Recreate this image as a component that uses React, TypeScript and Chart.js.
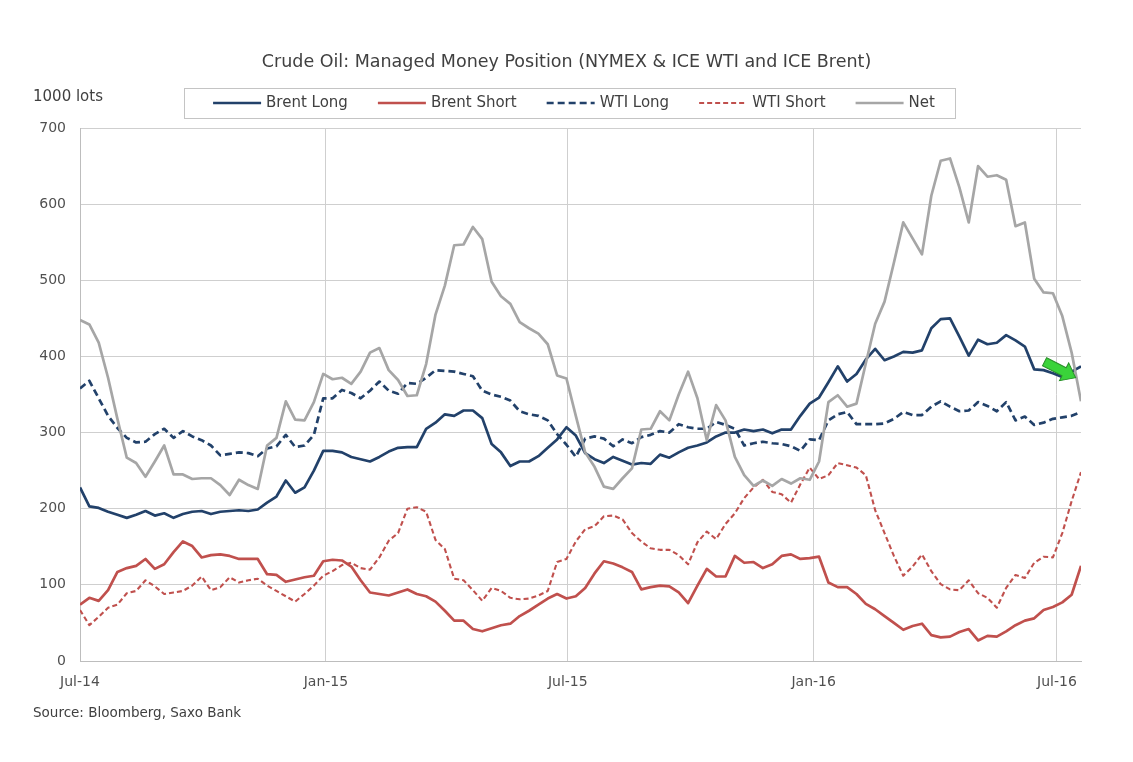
import React, { useEffect, useRef } from 'react';
import { Chart, registerables } from 'chart.js';

Chart.register(...registerables);

// ---- Text ----
const TITLE = 'Crude Oil: Managed Money Position (NYMEX & ICE WTI and ICE Brent)';
const UNIT_LABEL = '1000 lots';
const SOURCE = 'Source: Bloomberg, Saxo Bank';

// ---- Categories: weekly COT report dates (Tuesdays) from 1 Jul 2014 ----
const START_DATE = '2014-07-01';
const WEEK_COUNT = 108;
const DAY_MS = 86400000;
const weekDates: string[] = Array.from({ length: WEEK_COUNT }, (_, i) =>
  new Date(Date.parse(START_DATE) + i * 7 * DAY_MS).toISOString().slice(0, 10)
);

// ---- Axis ticks ----
const tickDates = ['2014-07-01', '2015-01-01', '2015-07-01', '2016-01-01', '2016-07-01'];
const tickLabels = ['Jul-14', 'Jan-15', 'Jul-15', 'Jan-16', 'Jul-16'];
const yTicksMax = 700;
const yTickStep = 100;

// ---- Series (1000 lots) ----
const brentLong = [
  228, 203, 201, 196, 192, 188, 192, 197, 191, 194, 188, 193, 196, 197, 193, 196, 197, 198, 197, 199, 208, 216, 237, 221, 228, 250, 276,
  276, 274, 268, 265, 262, 268, 275, 280, 281, 281, 305, 313, 324, 322, 329, 329, 319, 285, 274, 256, 262, 262, 269, 280, 291, 307, 296,
  273, 265, 260, 268, 263, 258, 260, 259, 271, 267, 274, 280, 283, 287, 295, 300, 300, 304, 302, 304, 299, 304, 304, 322, 338, 346,
  366, 387, 367, 377, 396, 410, 395, 400, 406, 405, 408, 437, 449, 450, 426, 401, 422, 416, 418, 428, 421, 413, 383, 382, 378, 373, 380, 387,
];
const brentShort = [
  74, 83, 79, 93, 117, 122, 125, 134, 121, 127, 143, 157, 151, 136, 139, 140, 138, 134, 134, 134, 114, 113, 104, 107, 110, 112, 131,
  133, 132, 124, 106, 90, 88, 86, 90, 94, 88, 85, 78, 66, 53, 53, 42, 39, 43, 47, 49, 59, 66, 74, 82, 88, 82, 85,
  96, 115, 131, 128, 123, 117, 94, 97, 99, 98, 90, 76, 99, 121, 111, 111, 138, 129, 130, 122, 127, 138, 140, 134, 135, 137,
  103, 97, 97, 88, 75, 68, 59, 50, 41, 46, 49, 34, 31, 32, 38, 42, 27, 33, 32, 39, 47, 53, 56, 67, 71, 77, 87, 125,
];
const wtiLong = [
  358, 368, 345, 322, 306, 293, 287, 288, 298, 305, 293, 302, 295, 290, 283, 270, 272, 274, 273, 269, 279, 282, 297, 281, 283, 297, 345,
  345, 356, 352, 345, 355, 367, 355, 351, 365, 364, 372, 382, 381, 380, 377, 374, 355, 350, 347, 342, 328, 324, 322, 316, 298, 284, 268,
  292, 295, 292, 282, 291, 286, 294, 297, 302, 300, 311, 307, 305, 305, 314, 310, 305, 283, 286, 288, 286, 285, 282, 276, 291, 290,
  316, 324, 327, 311, 311, 311, 312, 318, 327, 323, 323, 334, 341, 334, 328, 329, 340, 335, 328, 340, 316, 321, 310, 313, 318, 320, 322, 327,
];
const wtiShort = [
  67, 47, 58, 70, 74, 89, 92, 106, 98, 88, 90, 92, 99, 111, 93, 97, 110, 103, 106, 108, 99, 92, 85, 78, 88, 99, 112,
  118, 126, 129, 122, 120, 136, 158, 168, 200, 202, 196, 159, 147, 108, 106, 93, 79, 96, 92, 83, 81, 82, 86, 92, 130, 134, 157,
  173, 177, 190, 191, 186, 168, 157, 148, 146, 146, 139, 127, 156, 170, 160, 180, 194, 214, 228, 238, 222, 219, 208, 232, 254, 239,
  244, 260, 257, 254, 244, 198, 168, 138, 112, 124, 140, 118, 101, 94, 93, 106, 89, 83, 70, 96, 113, 109, 129, 137, 136, 168, 210, 248,
];
const net = [
  448, 442, 418, 372, 318, 267, 260, 242, 262, 283, 245, 245, 239, 240, 240, 231, 218, 238, 231, 226, 283, 293, 341, 317, 316, 340, 377,
  370, 372, 364, 380, 405, 411, 382, 369, 348, 349, 390, 455, 493, 546, 547, 570, 554, 498, 479, 469, 445, 437, 430, 416, 375, 371, 322,
  274, 255, 229, 226, 240, 253, 304, 305, 328, 316, 350, 380, 345, 290, 336, 316, 268, 244, 230, 237, 230, 239, 233, 240, 238, 262,
  340, 349, 334, 338, 391, 443, 472, 523, 576, 555, 534, 611, 657, 660, 622, 576, 650, 636, 638, 632, 571, 576, 502, 484, 483, 453, 405, 341,
];

// Annotation arrow tip (date, value) pointing at the latest Net move
const arrowTipDate = '2016-07-15';
const arrowTipValue = 372;

const FONT = '"DejaVu Sans", Verdana, sans-serif';
const NAVY = '#22416a';
const RED = '#c0504d';
const GREY = '#a6a6a6';
const GRID = '#cfcfcf';
const TEXT = '#404040';

const dayOf = (d: string) => (Date.parse(d) - Date.parse(START_DATE)) / DAY_MS;

export default function App() {
  const ref = useRef<HTMLCanvasElement | null>(null);

  useEffect(() => {
    const canvas = ref.current;
    if (!canvas) return;
    const toPts = (vals: number[]) => vals.map((v, i) => ({ x: dayOf(weekDates[i]), y: v }));
    const tickValues = tickDates.map(dayOf);

    const decor = {
      id: 'decor',
      afterDraw(chart: any) {
        const ctx = chart.ctx as CanvasRenderingContext2D;
        const W = chart.width;
        ctx.save();
        // Title
        ctx.fillStyle = TEXT;
        ctx.font = `17.5px ${FONT}`;
        ctx.textAlign = 'center';
        ctx.textBaseline = 'middle';
        ctx.fillText(TITLE, W / 2, 62);
        // unit label
        ctx.textAlign = 'left';
        ctx.font = `15px ${FONT}`;
        ctx.fillText(UNIT_LABEL, 33, 97);
        // source
        ctx.font = `13.5px ${FONT}`;
        ctx.fillText(SOURCE, 33, 713);

        // Legend
        ctx.font = `15px ${FONT}`;
        const ds = chart.data.datasets;
        const lineLen = 48;
        const gapText = 5;
        const itemGap = 30;
        const widths = ds.map((d: any) => lineLen + gapText + ctx.measureText(d.label).width);
        const total = widths.reduce((a: number, b: number) => a + b, 0) + itemGap * (ds.length - 1);
        const padL = 29, padR = 20;
        const boxW = total + padL + padR;
        const boxX = W / 2 + 3 - boxW / 2;
        const boxY = 88, boxH = 30;
        ctx.strokeStyle = '#c4c4c4';
        ctx.lineWidth = 1;
        ctx.strokeRect(Math.round(boxX) + 0.5, boxY + 0.5, Math.round(boxW), boxH);
        let x = boxX + padL;
        const cy = boxY + boxH / 2;
        ds.forEach((d: any, i: number) => {
          ctx.beginPath();
          ctx.strokeStyle = d.borderColor;
          ctx.lineWidth = d.borderWidth;
          ctx.setLineDash(d.borderDash || []);
          ctx.moveTo(x, cy);
          ctx.lineTo(x + lineLen, cy);
          ctx.stroke();
          ctx.setLineDash([]);
          ctx.fillStyle = TEXT;
          ctx.textBaseline = 'middle';
          ctx.fillText(d.label, x + lineLen + gapText, cy);
          x += widths[i] + itemGap;
        });

        // Green arrow annotation
        const xs = chart.scales.x, ys = chart.scales.y;
        const tx = xs.getPixelForValue(dayOf(arrowTipDate));
        const ty = ys.getPixelForValue(arrowTipValue);
        ctx.translate(tx, ty);
        ctx.rotate(Math.atan2(16, 31));
        const L = 35, hl = 13, sw = 4.5, hw = 10;
        ctx.beginPath();
        ctx.moveTo(0, 0);
        ctx.lineTo(-hl, -hw);
        ctx.lineTo(-hl, -sw);
        ctx.lineTo(-L, -sw);
        ctx.lineTo(-L, sw);
        ctx.lineTo(-hl, sw);
        ctx.lineTo(-hl, hw);
        ctx.closePath();
        ctx.fillStyle = '#3ad33a';
        ctx.fill();
        ctx.strokeStyle = '#2a8f2a';
        ctx.lineWidth = 1;
        ctx.stroke();
        ctx.restore();
      },
    };

    const chart = new Chart(canvas, {
      type: 'line',
      data: {
        datasets: [
          { label: 'Brent Long', data: toPts(brentLong), borderColor: NAVY, borderWidth: 2.7, order: 5 },
          { label: 'Brent Short', data: toPts(brentShort), borderColor: RED, borderWidth: 2.7, order: 4 },
          { label: 'WTI Long', data: toPts(wtiLong), borderColor: NAVY, borderWidth: 2.7, borderDash: [7, 4], order: 3 },
          { label: 'WTI Short', data: toPts(wtiShort), borderColor: RED, borderWidth: 2.1, borderDash: [5, 3], order: 2 },
          { label: 'Net', data: toPts(net), borderColor: GREY, borderWidth: 2.7, order: 1 },
        ] as any,
      },
      options: {
        animation: false,
        responsive: false,
        devicePixelRatio: 1,
        parsing: true,
        elements: { point: { radius: 0 }, line: { tension: 0, borderCapStyle: 'butt', borderJoinStyle: 'round' } },
        layout: { padding: { top: 128, right: 52, bottom: 0, left: 0 } },
        plugins: { legend: { display: false }, title: { display: false }, tooltip: { enabled: false } },
        scales: {
          x: {
            type: 'linear',
            min: 0,
            max: dayOf(weekDates[weekDates.length - 1]),
            afterBuildTicks: (scale: any) => {
              scale.ticks = tickValues.map((v) => ({ value: v }));
            },
            afterFit: (scale: any) => {
              scale.height = 101;
            },
            ticks: {
              autoSkip: false,
              maxRotation: 0,
              padding: 13,
              color: '#505050',
              font: { family: FONT, size: 14 },
              callback: (v: any) => {
                const idx = tickValues.findIndex((t) => Math.abs(t - Number(v)) < 0.5);
                return idx >= 0 ? tickLabels[idx] : '';
              },
            },
            grid: { color: GRID, lineWidth: 1, drawTicks: false },
            border: { display: true, color: '#bdbdbd', width: 1 },
          },
          y: {
            min: 0,
            max: yTicksMax,
            afterFit: (scale: any) => {
              scale.width = 80;
            },
            ticks: {
              stepSize: yTickStep,
              padding: 14,
              color: '#505050',
              font: { family: FONT, size: 14 },
            },
            grid: { color: GRID, lineWidth: 1, drawTicks: false },
            border: { display: true, color: '#bdbdbd', width: 1 },
          },
        },
      } as any,
      plugins: [decor],
    });
    return () => chart.destroy();
  }, []);

  return (
    <div style={{ position: 'absolute', left: 0, top: 0, width: 1133, height: 762, background: '#fff' }}>
      <canvas ref={ref} width={1133} height={762} style={{ display: 'block', width: 1133, height: 762 }} />
    </div>
  );
}
